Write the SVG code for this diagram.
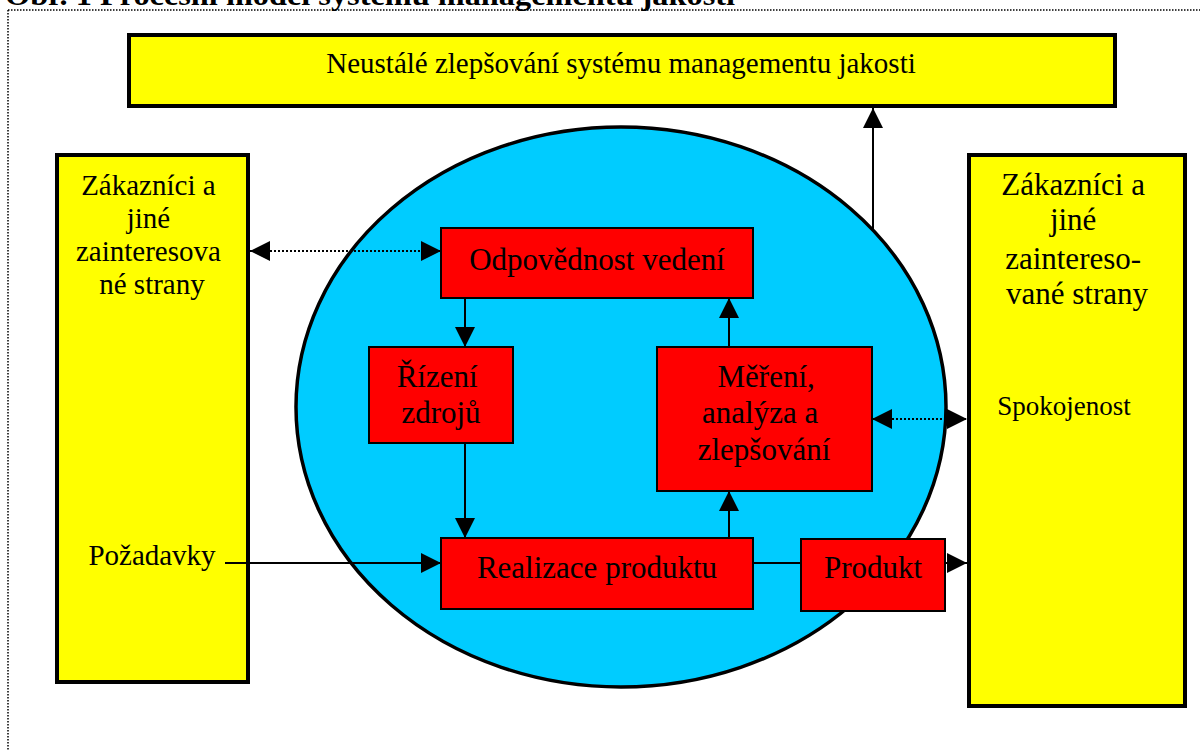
<svg xmlns="http://www.w3.org/2000/svg" width="1200" height="751" viewBox="0 0 1200 751">
  <style>
    .txt { font-family: "Liberation Serif", "Times New Roman", serif; fill: #000; }
    .ylw { fill: #ffff00; stroke: #000; stroke-width: 4; }
    .red { fill: #ff0000; stroke: #000; stroke-width: 2; }
    .big { font-size: 29px; }
    .mid { font-size: 31px; }
    .ln { stroke: #000; stroke-width: 2; fill: none; }
    .dot { stroke: #000; stroke-width: 2; stroke-dasharray: 2 2; fill: none; }
    .frame { stroke: #000; stroke-width: 1.5; stroke-dasharray: 1.5 1.5; fill: none; }
  </style>
  <defs>
    <marker id="ah" viewBox="0 0 20 20" refX="20" refY="10" markerWidth="20" markerHeight="20" markerUnits="userSpaceOnUse" orient="auto-start-reverse">
      <path d="M0,0 L20,10 L0,20 z" fill="#000"/>
    </marker>
  </defs>

  <rect width="1200" height="751" fill="#fff"/>

  <!-- caption, partly above the page edge -->
  <text class="txt" x="5" y="5" font-size="29" font-weight="bold" textLength="730" lengthAdjust="spacingAndGlyphs">Obr. 1 Procesní model systému managementu jakosti</text>

  <!-- dotted frame -->
  <path class="frame" d="M8,10 H1200 M8,10 V751"/>

  <g id="improvement">
    <rect class="ylw" x="129" y="35" width="986" height="71"/>
    <text class="txt big" x="621" y="73" text-anchor="middle">Neustálé zlepšování systému managementu jakosti</text>
  </g>

  <g id="customers-in">
    <rect class="ylw" x="57" y="155" width="191" height="527"/>
    <text class="txt big" text-anchor="middle">
      <tspan x="152" y="195">Zákazníci a</tspan>
      <tspan x="152" y="228">jiné</tspan>
      <tspan x="152" y="261">zainteresova</tspan>
      <tspan x="152" y="294">né strany</tspan>
    </text>
    <text class="txt big" x="152" y="565" text-anchor="middle">Požadavky</text>
  </g>

  <g id="customers-out">
    <rect class="ylw" x="969" y="155" width="216" height="551"/>
    <text class="txt mid" text-anchor="middle">
      <tspan x="1077" y="195">Zákazníci a</tspan>
      <tspan x="1077" y="230">jiné</tspan>
      <tspan x="1077" y="269">zaintereso-</tspan>
      <tspan x="1077" y="304">vané strany</tspan>
    </text>
    <text class="txt" font-size="27" x="1064" y="415" text-anchor="middle">Spokojenost</text>
  </g>

  <g id="system">
    <ellipse cx="621" cy="407" rx="325" ry="280" fill="#00ccff" stroke="#000" stroke-width="3.5"/>
  </g>

  <g id="connectors">
    <line class="ln" x1="873" y1="229" x2="873" y2="108" marker-end="url(#ah)"/>
    <line class="dot" x1="250" y1="251" x2="441" y2="251" marker-start="url(#ah)" marker-end="url(#ah)"/>
    <line class="dot" x1="872" y1="419" x2="967" y2="419" marker-start="url(#ah)" marker-end="url(#ah)"/>
    <line class="ln" x1="465" y1="298" x2="465" y2="347" marker-end="url(#ah)"/>
    <line class="ln" x1="465" y1="443" x2="465" y2="538" marker-end="url(#ah)"/>
    <line class="ln" x1="729" y1="538" x2="729" y2="491" marker-end="url(#ah)"/>
    <line class="ln" x1="729" y1="347" x2="729" y2="298" marker-end="url(#ah)"/>
    <line class="ln" x1="225" y1="563" x2="441" y2="563" marker-end="url(#ah)"/>
    <line class="ln" x1="753" y1="563" x2="801" y2="563"/>
    <line class="ln" x1="945" y1="563" x2="967" y2="563" marker-end="url(#ah)"/>
  </g>

  <g id="leadership">
    <rect class="red" x="441" y="228" width="312" height="70"/>
    <text class="txt mid" x="597" y="270" text-anchor="middle">Odpovědnost vedení</text>
  </g>

  <g id="resources">
    <rect class="red" x="369" y="347" width="144" height="96"/>
    <text class="txt mid" text-anchor="middle">
      <tspan x="441" y="387">Řízení</tspan>
      <tspan x="441" y="423">zdrojů</tspan>
    </text>
  </g>

  <g id="measurement">
    <rect class="red" x="657" y="347" width="215" height="144"/>
    <text class="txt mid" text-anchor="middle">
      <tspan x="770" y="387">Měření,</tspan>
      <tspan x="764" y="423">analýza a</tspan>
      <tspan x="764" y="460">zlepšování</tspan>
    </text>
  </g>

  <g id="realization">
    <rect class="red" x="441" y="538" width="312" height="71"/>
    <text class="txt mid" x="597" y="578" text-anchor="middle">Realizace produktu</text>
  </g>

  <g id="product">
    <rect class="red" x="801" y="539" width="144" height="72"/>
    <text class="txt mid" x="873" y="578" text-anchor="middle">Produkt</text>
  </g>
</svg>
